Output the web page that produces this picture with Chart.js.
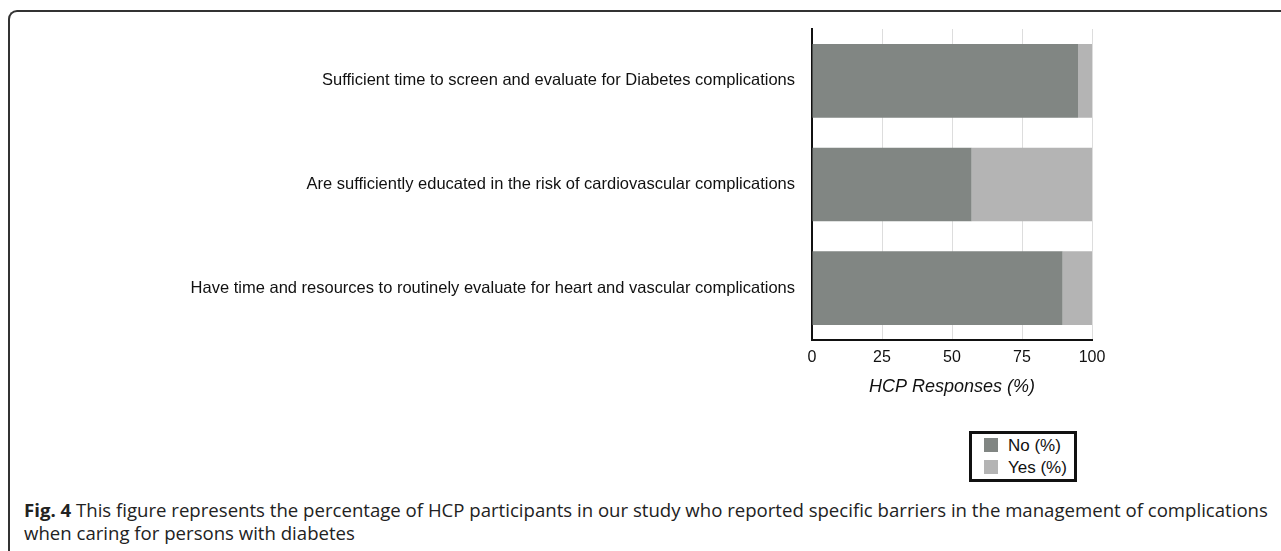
<!DOCTYPE html>
<html>
<head>
<meta charset="utf-8">
<script src="https://cdn.jsdelivr.net/npm/chart.js@4"></script>
<style>
body{margin:0;background:#fff;width:1281px;height:551px;overflow:hidden;position:relative;font-family:"Liberation Sans",Arial,sans-serif}
#frame{position:absolute;left:8px;top:10px;width:1320px;height:620px;border-top:2px solid #333;border-left:2px solid #333;border-top-left-radius:9px}
#wrap{position:absolute;left:0;top:0;width:1281px;height:400px}
#legend{position:absolute;left:969px;top:431px;width:102px;height:45px;border:3px solid #111;font-size:17px;color:#111}
#legend div{height:22px;line-height:22px;padding-left:12px;white-space:nowrap}
#legend div:first-child{margin-top:1px}
#legend span{display:inline-block;width:14px;height:14px;margin-right:10px;vertical-align:-1px}
#caption{position:absolute;left:24px;top:498px;font-family:"Open Sans",sans-serif;font-size:18.6px;line-height:23px;color:#222;white-space:nowrap}
</style>
</head>
<body>
<div id="frame"></div>
<div id="wrap"><canvas id="myChart" width="1281" height="400"></canvas></div>
<div id="legend"></div>
<div id="caption"><b>Fig. 4</b> This figure represents the percentage of HCP participants in our study who reported specific barriers in the management of complications<br>when caring for persons with diabetes</div>
<script>
// categories and values
const questions = [
	"Sufficient time to screen and evaluate for Diabetes complications",
	"Are sufficiently educated in the risk of cardiovascular complications",
	"Have time and resources to routinely evaluate for heart and vascular complications"
];
const noPct = [95, 57, 89.5];
const yesPct = [5, 43, 10.5];
const xTicks = [0, 25, 50, 75, 100];

const fam = '"Liberation Sans", Arial, sans-serif';

let myChart = new Chart(document.getElementById('myChart'), {
	type: 'bar',
	data: {
		labels: questions,
		datasets: [{
			label: 'No (%)',
			data: noPct,
			backgroundColor: '#818683'
		}, {
			label: 'Yes (%)',
			data: yesPct,
			backgroundColor: '#b4b4b4'
		}]
	},
	options: {
		indexAxis: 'y',
		responsive: false,
		animation: false,
		layout: {padding: {left: 0, right: 189, top: 29, bottom: 0}},
		categoryPercentage: 0.71,
		barPercentage: 1,
		plugins: {legend: {display: false}, tooltip: {enabled: false}},
		scales: {
			x: {
				stacked: true,
				min: 0,
				max: 100,
				afterBuildTicks: (s) => { s.ticks = xTicks.map(v => ({value: v})); },
				afterFit: (s) => { s.height = 60; },
				grid: {color: '#dddddd', lineWidth: 1, drawTicks: false},
				border: {color: '#111', width: 2},
				ticks: {color: '#111', font: {size: 16, family: fam}, padding: 8},
				title: {display: true, text: 'HCP Responses (%)', color: '#111',
					font: {size: 18, style: 'italic', family: fam}, padding: {top: 4, bottom: 2}}
			},
			y: {
				stacked: true,
				afterFit: (s) => { s.width = 812; },
				grid: {display: false, drawTicks: false},
				border: {color: '#111', width: 2},
				ticks: {color: '#111', font: {size: 16.5, family: fam}, padding: 17}
			}
		}
	}
});

// html legend built from the chart datasets
const leg = document.getElementById('legend');
myChart.data.datasets.forEach(ds => {
	const row = document.createElement('div');
	row.innerHTML = '<span style="background:' + ds.backgroundColor + '"></span>' + ds.label;
	leg.appendChild(row);
});
</script>
</body>
</html>
